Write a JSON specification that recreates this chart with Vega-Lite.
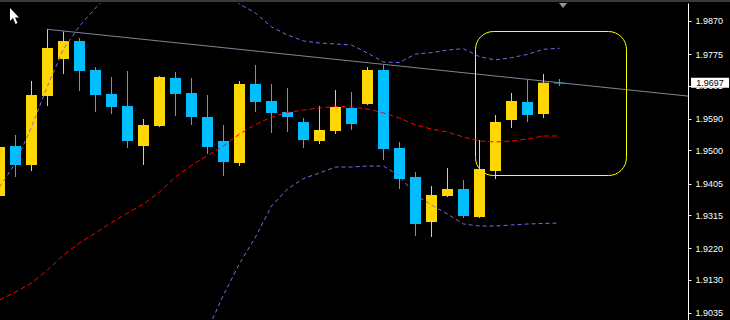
{
  "$schema": "https://vega.github.io/schema/vega-lite/v6.json",
  "width": 688,
  "height": 317,
  "autosize": {"type": "none"},
  "padding": {"left": 0, "top": 3, "right": 42, "bottom": 0},
  "background": "#000000",
  "config": {
    "view": {"stroke": null, "fill": "#000000"},
    "scale": {"continuousPadding": 0},
    "axisX": {"disable": true}
  },
  "resolve": {"axis": {"y": "independent"}},
  "datasets": {
    "candles": [
      {"i": 0, "o": 1.93695, "h": 1.95182, "l": 1.93667, "c": 1.95096, "d": "up"},
      {"i": 1, "o": 1.95125, "h": 1.95440, "l": 1.94239, "c": 1.94582, "d": "down"},
      {"i": 2, "o": 1.94582, "h": 1.96984, "l": 1.94410, "c": 1.96583, "d": "up"},
      {"i": 3, "o": 1.96555, "h": 1.98462, "l": 1.96269, "c": 1.97927, "d": "up"},
      {"i": 4, "o": 1.97613, "h": 1.98394, "l": 1.97184, "c": 1.98128, "d": "up"},
      {"i": 5, "o": 1.98128, "h": 1.98213, "l": 1.96698, "c": 1.97270, "d": "down"},
      {"i": 6, "o": 1.97298, "h": 1.97384, "l": 1.96097, "c": 1.96583, "d": "down"},
      {"i": 7, "o": 1.96612, "h": 1.97098, "l": 1.96040, "c": 1.96240, "d": "down"},
      {"i": 8, "o": 1.96269, "h": 1.97270, "l": 1.95068, "c": 1.95268, "d": "down"},
      {"i": 9, "o": 1.95125, "h": 1.95897, "l": 1.94582, "c": 1.95726, "d": "up"},
      {"i": 10, "o": 1.95697, "h": 1.97127, "l": 1.95668, "c": 1.97098, "d": "up"},
      {"i": 11, "o": 1.97070, "h": 1.97241, "l": 1.95983, "c": 1.96612, "d": "down"},
      {"i": 12, "o": 1.96641, "h": 1.97070, "l": 1.95726, "c": 1.95954, "d": "down"},
      {"i": 13, "o": 1.95954, "h": 1.96583, "l": 1.94896, "c": 1.95096, "d": "down"},
      {"i": 14, "o": 1.95268, "h": 1.95726, "l": 1.94267, "c": 1.94667, "d": "down"},
      {"i": 15, "o": 1.94639, "h": 1.96984, "l": 1.94553, "c": 1.96898, "d": "up"},
      {"i": 16, "o": 1.96898, "h": 1.97441, "l": 1.96097, "c": 1.96383, "d": "down"},
      {"i": 17, "o": 1.96412, "h": 1.96898, "l": 1.95497, "c": 1.96069, "d": "down"},
      {"i": 18, "o": 1.96097, "h": 1.96784, "l": 1.95525, "c": 1.95954, "d": "down"},
      {"i": 19, "o": 1.95811, "h": 1.95926, "l": 1.95068, "c": 1.95297, "d": "down"},
      {"i": 20, "o": 1.95268, "h": 1.96269, "l": 1.95182, "c": 1.95583, "d": "up"},
      {"i": 21, "o": 1.95554, "h": 1.96726, "l": 1.95468, "c": 1.96240, "d": "up"},
      {"i": 22, "o": 1.96212, "h": 1.96669, "l": 1.95583, "c": 1.95754, "d": "down"},
      {"i": 23, "o": 1.96326, "h": 1.97384, "l": 1.96297, "c": 1.97298, "d": "up"},
      {"i": 24, "o": 1.97298, "h": 1.97441, "l": 1.94725, "c": 1.95039, "d": "down"},
      {"i": 25, "o": 1.95068, "h": 1.95239, "l": 1.93895, "c": 1.94181, "d": "down"},
      {"i": 26, "o": 1.94239, "h": 1.94382, "l": 1.92551, "c": 1.92895, "d": "down"},
      {"i": 27, "o": 1.92952, "h": 1.93981, "l": 1.92523, "c": 1.93724, "d": "up"},
      {"i": 28, "o": 1.93695, "h": 1.94496, "l": 1.93667, "c": 1.93895, "d": "up"},
      {"i": 29, "o": 1.93895, "h": 1.94153, "l": 1.93066, "c": 1.93123, "d": "down"},
      {"i": 30, "o": 1.93095, "h": 1.95297, "l": 1.93066, "c": 1.94467, "d": "up"},
      {"i": 31, "o": 1.94410, "h": 1.96011, "l": 1.94181, "c": 1.95811, "d": "up"},
      {"i": 32, "o": 1.95869, "h": 1.96641, "l": 1.95640, "c": 1.96412, "d": "up"},
      {"i": 33, "o": 1.96383, "h": 1.97012, "l": 1.95811, "c": 1.96011, "d": "down"},
      {"i": 34, "o": 1.96040, "h": 1.97184, "l": 1.95926, "c": 1.96935, "d": "up"},
      {"i": 35, "o": 1.96935, "h": 1.97041, "l": 1.96841, "c": 1.96912, "d": "down"}
    ],
    "bands": [
      {"i": 0, "up": 1.93953, "mid": 1.90721, "lo": 1.84001},
      {"i": 1, "up": 1.94639, "mid": 1.90950, "lo": 1.83858},
      {"i": 2, "up": 1.95668, "mid": 1.91207, "lo": 1.83715},
      {"i": 3, "up": 1.96841, "mid": 1.91579, "lo": 1.83572},
      {"i": 4, "up": 1.97899, "mid": 1.92008, "lo": 1.83572},
      {"i": 5, "up": 1.98557, "mid": 1.92351, "lo": 1.83715},
      {"i": 6, "up": 1.99071, "mid": 1.92637, "lo": 1.84001},
      {"i": 7, "up": 1.99529, "mid": 1.92937, "lo": 1.84430},
      {"i": 8, "up": 1.99872, "mid": 1.93209, "lo": 1.85002},
      {"i": 9, "up": 2.00158, "mid": 1.93466, "lo": 1.85717},
      {"i": 10, "up": 2.00301, "mid": 1.93810, "lo": 1.86575},
      {"i": 11, "up": 2.00301, "mid": 1.94239, "lo": 1.87576},
      {"i": 12, "up": 2.00158, "mid": 1.94567, "lo": 1.88720},
      {"i": 13, "up": 1.99929, "mid": 1.94853, "lo": 1.89863},
      {"i": 14, "up": 1.99586, "mid": 1.95125, "lo": 1.90864},
      {"i": 15, "up": 1.99186, "mid": 1.95468, "lo": 1.91762},
      {"i": 16, "up": 1.98928, "mid": 1.95740, "lo": 1.92523},
      {"i": 17, "up": 1.98528, "mid": 1.95954, "lo": 1.93409},
      {"i": 18, "up": 1.98299, "mid": 1.96083, "lo": 1.93895},
      {"i": 19, "up": 1.98128, "mid": 1.96154, "lo": 1.94196},
      {"i": 20, "up": 1.98070, "mid": 1.96212, "lo": 1.94353},
      {"i": 21, "up": 1.98042, "mid": 1.96255, "lo": 1.94524},
      {"i": 22, "up": 1.98013, "mid": 1.96240, "lo": 1.94524},
      {"i": 23, "up": 1.97784, "mid": 1.96183, "lo": 1.94553},
      {"i": 24, "up": 1.97527, "mid": 1.96069, "lo": 1.94553},
      {"i": 25, "up": 1.97513, "mid": 1.95926, "lo": 1.94267},
      {"i": 26, "up": 1.97756, "mid": 1.95726, "lo": 1.93724},
      {"i": 27, "up": 1.97793, "mid": 1.95611, "lo": 1.93438},
      {"i": 28, "up": 1.97870, "mid": 1.95525, "lo": 1.93180},
      {"i": 29, "up": 1.97907, "mid": 1.95382, "lo": 1.92895},
      {"i": 30, "up": 1.97679, "mid": 1.95268, "lo": 1.92837},
      {"i": 31, "up": 1.97584, "mid": 1.95239, "lo": 1.92837},
      {"i": 32, "up": 1.97650, "mid": 1.95268, "lo": 1.92866},
      {"i": 33, "up": 1.97747, "mid": 1.95325, "lo": 1.92895},
      {"i": 34, "up": 1.97890, "mid": 1.95411, "lo": 1.92909},
      {"i": 35, "up": 1.97919, "mid": 1.95411, "lo": 1.92923}
    ],
    "trend": [{"i": 2.97, "p": 1.98462}, {"i": 43.1, "p": 1.96549}],
    "box": [{"i1": 29.75, "i2": 39.1875, "p1": 1.98399, "p2": 1.94281}],
    "strip": [{"i1": -1, "i2": 46, "p1": 1.99300, "p2": 1.99243}],
    "tag": [{"i1": 43.22, "i2": 45.6, "p1": 1.97078, "p2": 1.96792, "ic": 44.41, "pc": 1.96935, "label": "1.9697"}],
    "marker": [{"i": 35.22, "p": 1.99143}],
    "cursor": [{"i": 0.656, "p": 1.99071}]
  },
  "layer": [
    {
      "data": {"name": "strip"},
      "mark": {"type": "rect", "color": "#3a3a3a", "clip": false},
      "encoding": {
        "x": {"field": "i1", "type": "quantitative", "scale": {"domain": [0.03125, 43.03125], "nice": false, "zero": false, "padding": 0}, "axis": null},
        "x2": {"field": "i2"},
        "y": {"field": "p1", "type": "quantitative", "scale": {"domain": [1.901493, 1.992142], "nice": false, "zero": false, "padding": 0},
          "axis": {"orient": "right", "values": [1.9870, 1.9775, 1.9685, 1.9590, 1.9500, 1.9405, 1.9315, 1.9220, 1.9130, 1.9035], "format": ".4f", "domainColor": "#ffffff", "domainWidth": 1, "tickColor": "#ffffff", "tickSize": 3, "labelColor": "#ffffff", "labelFont": "Liberation Sans", "labelFontSize": 9, "labelPadding": 4, "grid": false, "title": null, "labelOverlap": false, "labelFlush": false, "labelBound": false}},
        "y2": {"field": "p2"}
      }
    },
    {
      "mark": {"type": "rule", "color": "#778899", "strokeWidth": 1},
      "encoding": {"y": {"datum": 1.96912, "type": "quantitative", "axis": null}}
    },
    {
      "data": {"name": "trend"},
      "mark": {"type": "line", "color": "#778899", "strokeWidth": 1, "clip": true},
      "encoding": {
        "x": {"field": "i", "type": "quantitative", "axis": null},
        "y": {"field": "p", "type": "quantitative", "axis": null}
      }
    },
    {
      "data": {"name": "box"},
      "mark": {"type": "rect", "fill": null, "fillOpacity": 0, "stroke": "#ffff00", "strokeWidth": 1, "cornerRadius": 18},
      "encoding": {
        "x": {"field": "i1", "type": "quantitative", "axis": null},
        "x2": {"field": "i2"},
        "y": {"field": "p1", "type": "quantitative", "axis": null},
        "y2": {"field": "p2"}
      }
    },
    {
      "data": {"name": "candles"},
      "mark": {"type": "rule", "strokeWidth": 1, "clip": true},
      "encoding": {
        "x": {"field": "i", "type": "quantitative", "axis": null},
        "y": {"field": "h", "type": "quantitative", "axis": null},
        "y2": {"field": "l"},
        "color": {"field": "d", "type": "nominal", "scale": {"domain": ["up", "down"], "range": ["#FFD700", "#00BFFF"]}, "legend": null}
      }
    },
    {
      "data": {"name": "candles"},
      "mark": {"type": "bar", "size": 11, "clip": true},
      "encoding": {
        "x": {"field": "i", "type": "quantitative", "axis": null},
        "y": {"field": "o", "type": "quantitative", "axis": null},
        "y2": {"field": "c"},
        "color": {"field": "d", "type": "nominal", "scale": {"domain": ["up", "down"], "range": ["#FFD700", "#00BFFF"]}, "legend": null}
      }
    },
    {
      "data": {"name": "bands"},
      "mark": {"type": "line", "color": "#7B68EE", "strokeWidth": 1, "strokeDash": [4, 3], "clip": true},
      "encoding": {
        "x": {"field": "i", "type": "quantitative", "axis": null},
        "y": {"field": "up", "type": "quantitative", "axis": null}
      }
    },
    {
      "data": {"name": "bands"},
      "mark": {"type": "line", "color": "#FF0000", "strokeWidth": 1, "strokeDash": [5, 3], "clip": true},
      "encoding": {
        "x": {"field": "i", "type": "quantitative", "axis": null},
        "y": {"field": "mid", "type": "quantitative", "axis": null}
      }
    },
    {
      "data": {"name": "bands"},
      "mark": {"type": "line", "color": "#7B68EE", "strokeWidth": 1, "strokeDash": [4, 3], "clip": true},
      "encoding": {
        "x": {"field": "i", "type": "quantitative", "axis": null},
        "y": {"field": "lo", "type": "quantitative", "axis": null}
      }
    },
    {
      "mark": {"type": "rule", "color": "#ffffff", "strokeWidth": 1},
      "encoding": {"y": {"datum": 1.991999, "type": "quantitative", "axis": null}}
    },
    {
      "data": {"name": "marker"},
      "mark": {"type": "point", "shape": "M-1,-0.6L1,-0.6L0,0.6Z", "filled": true, "color": "#8899aa", "size": 64, "opacity": 1, "strokeWidth": 0},
      "encoding": {
        "x": {"field": "i", "type": "quantitative", "axis": null},
        "y": {"field": "p", "type": "quantitative", "axis": null}
      }
    },
    {
      "data": {"name": "tag"},
      "mark": {"type": "rect", "color": "#ffffff", "clip": false},
      "encoding": {
        "x": {"field": "i1", "type": "quantitative", "axis": null},
        "x2": {"field": "i2"},
        "y": {"field": "p1", "type": "quantitative", "axis": null},
        "y2": {"field": "p2"}
      }
    },
    {
      "data": {"name": "tag"},
      "mark": {"type": "text", "color": "#000000", "font": "Liberation Sans", "fontSize": 9, "align": "center", "baseline": "middle", "clip": false},
      "encoding": {
        "x": {"field": "ic", "type": "quantitative", "axis": null},
        "y": {"field": "pc", "type": "quantitative", "axis": null},
        "text": {"field": "label", "type": "nominal"}
      }
    },
    {
      "data": {"name": "cursor"},
      "mark": {"type": "point", "shape": "M0,0L0,1.3L0.3,1.0L0.55,1.6L0.75,1.5L0.5,0.95L0.9,0.95Z", "filled": true, "color": "#ffffff", "size": 400, "opacity": 1, "strokeWidth": 0},
      "encoding": {
        "x": {"field": "i", "type": "quantitative", "axis": null},
        "y": {"field": "p", "type": "quantitative", "axis": null}
      }
    }
  ]
}
